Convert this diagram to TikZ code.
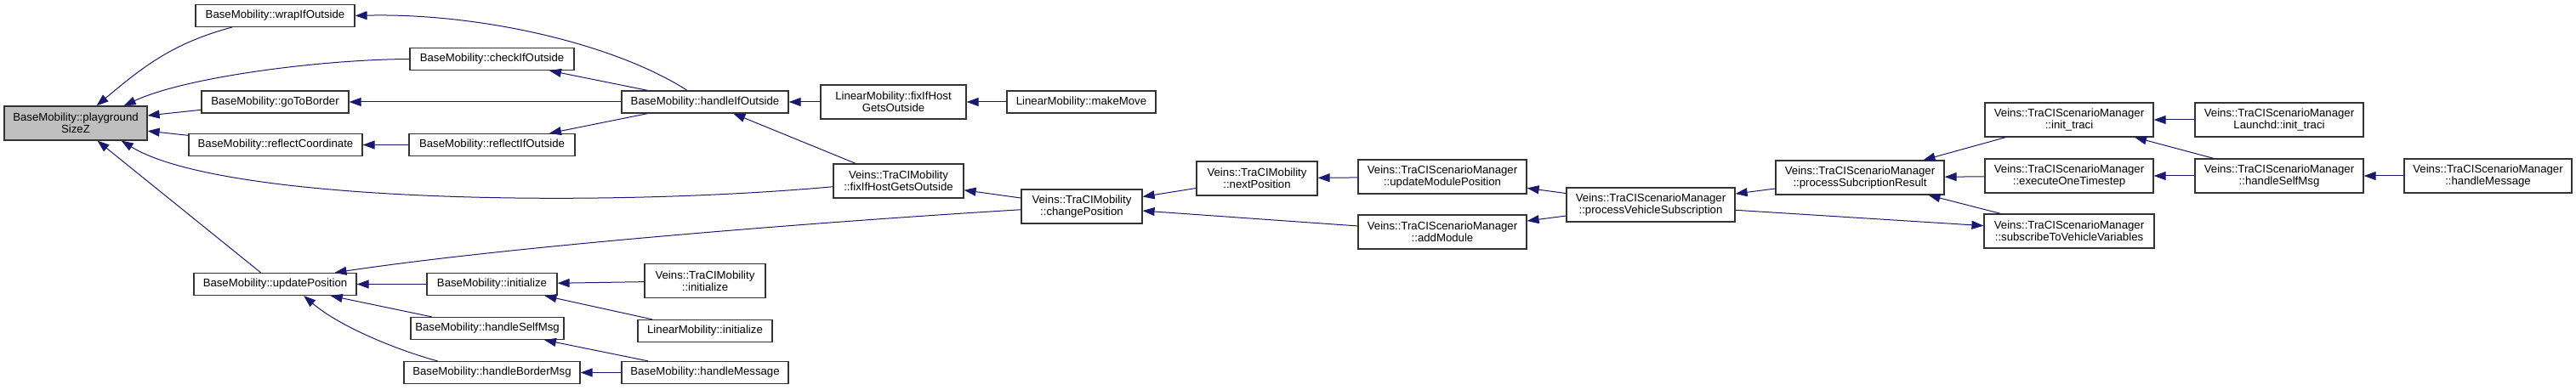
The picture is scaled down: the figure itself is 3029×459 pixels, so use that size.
\documentclass[tikz,border=0pt]{standalone}
\usepackage{fontspec}
\setmainfont{Liberation Sans}
\usetikzlibrary{arrows.meta}
\definecolor{edgeblue}{RGB}{25,25,112}
\tikzset{
  fn/.style={draw=black!80, fill=white, line width=0.6pt, inner sep=0pt,
    minimum height=13pt, align=center, font=\fontsize{6.6}{6.9}\selectfont},
  fn2/.style={fn, minimum height=20pt},
  call/.style={->, draw=edgeblue, line width=0.5pt}
}
\begin{document}
\begin{tikzpicture}[x=0.5pt, y=-0.5pt, >={Triangle[length=7pt,width=5pt]}]
  \useasboundingbox (0,0) rectangle (3029,459);
  \node[fn2, fill=black!25, minimum width=84pt] (psz) at (89,145) {BaseMobility::playground\\SizeZ};
  \node[fn, minimum width=93.5pt] (wrap) at (323.5,18.5) {BaseMobility::wrapIfOutside};
  \node[fn, minimum width=86.5pt] (goto) at (323.5,120) {BaseMobility::goToBorder};
  \node[fn, minimum width=102pt] (reflcoord) at (324,170.5) {BaseMobility::reflectCoordinate};
  \node[fn, minimum width=95.5pt] (updpos) at (323.5,334.5) {BaseMobility::updatePosition};
  \node[fn, minimum width=96.5pt] (check) at (578.5,69.5) {BaseMobility::checkIfOutside};
  \node[fn, minimum width=97.5pt] (reflif) at (578.5,170.5) {BaseMobility::reflectIfOutside};
  \node[fn, minimum width=76.5pt] (init) at (578.5,334.5) {BaseMobility::initialize};
  \node[fn, minimum width=90pt] (selfmsg) at (573,386.5) {BaseMobility::handleSelfMsg};
  \node[fn, minimum width=103.5pt] (bordermsg) at (578.5,438.5) {BaseMobility::handleBorderMsg};
  \node[fn, minimum width=98pt] (handleif) at (829,120) {BaseMobility::handleIfOutside};
  \node[fn2, minimum width=71pt] (vinit) at (829,330.5) {Veins::TraCIMobility\\::initialize};
  \node[fn, minimum width=79pt] (lininit) at (829,389.5) {LinearMobility::initialize};
  \node[fn, minimum width=98pt] (handlemsg) at (829,438.5) {BaseMobility::handleMessage};
  \node[fn2, minimum width=85.5pt] (linfix) at (1050.5,120) {LinearMobility::fixIfHost\\GetsOutside};
  \node[fn2, minimum width=76.5pt] (vfix) at (1056.5,213) {Veins::TraCIMobility\\::fixIfHostGetsOutside};
  \node[fn, minimum width=87.5pt] (makemove) at (1271.5,120) {LinearMobility::makeMove};
  \node[fn2, minimum width=71pt] (changepos) at (1272,243) {Veins::TraCIMobility\\::changePosition};
  \node[fn2, minimum width=71pt] (nextpos) at (1478,210) {Veins::TraCIMobility\\::nextPosition};
  \node[fn2, minimum width=99pt] (updmod) at (1696,208) {Veins::TraCIScenarioManager\\::updateModulePosition};
  \node[fn2, minimum width=99pt] (addmod) at (1696,273) {Veins::TraCIScenarioManager\\::addModule};
  \node[fn2, minimum width=99pt] (procveh) at (1941,241) {Veins::TraCIScenarioManager\\::processVehicleSubscription};
  \node[fn2, minimum width=99pt] (procsub) at (2187,209) {Veins::TraCIScenarioManager\\::processSubcriptionResult};
  \node[fn2, minimum width=99pt] (inittraci) at (2433,141) {Veins::TraCIScenarioManager\\::init\_traci};
  \node[fn2, minimum width=99pt] (execone) at (2433,207) {Veins::TraCIScenarioManager\\::executeOneTimestep};
  \node[fn2, minimum width=100pt] (subscribe) at (2433,272) {Veins::TraCIScenarioManager\\::subscribeToVehicleVariables};
  \node[fn2, minimum width=99pt] (launchd) at (2680,141) {Veins::TraCIScenarioManager\\Launchd::init\_traci};
  \node[fn2, minimum width=99pt] (vselfmsg) at (2680,207) {Veins::TraCIScenarioManager\\::handleSelfMsg};
  \node[fn2, minimum width=98.5pt] (vhandlemsg) at (2925.5,207) {Veins::TraCIScenarioManager\\::handleMessage};

  \draw[call] (wrap) to[out=195,in=40] (psz);
  \draw[call] (check.west) .. controls (380,70) and (220,90) .. (psz.20);
  \draw[call] (goto) -- (psz);
  \draw[call] (reflcoord) -- (psz);
  \draw[call] (vfix.185) .. controls (700,245) and (260,238) .. (psz.-21);
  \draw[call] (updpos) -- (psz);
  \draw[call] (handleif.147) .. controls (720,50) and (560,15) .. (wrap.east);
  \draw[call] (handleif) -- (check);
  \draw[call] (handleif) -- (goto);
  \draw[call] (handleif) -- (reflif);
  \draw[call] (reflif) -- (reflcoord);
  \draw[call] (linfix) -- (handleif);
  \draw[call] (vfix) -- (handleif);
  \draw[call] (makemove) -- (linfix);
  \draw[call] (changepos) -- (vfix);
  \draw[call] (changepos.183) .. controls (950,262) and (600,290) .. (updpos.11);
  \draw[call] (nextpos) -- (changepos);
  \draw[call] (addmod) -- (changepos);
  \draw[call] (updmod) -- (nextpos);
  \draw[call] (procveh) -- (updmod);
  \draw[call] (procveh) -- (addmod);
  \draw[call] (procveh) -- (subscribe);
  \draw[call] (procsub) -- (procveh);
  \draw[call] (inittraci) -- (procsub);
  \draw[call] (execone) -- (procsub);
  \draw[call] (subscribe) -- (procsub);
  \draw[call] (launchd) -- (inittraci);
  \draw[call] (vselfmsg) -- (inittraci);
  \draw[call] (vselfmsg) -- (execone);
  \draw[call] (vhandlemsg) -- (vselfmsg);
  \draw[call] (init) -- (updpos);
  \draw[call] (selfmsg) -- (updpos);
  \draw[call] (bordermsg.168) .. controls (470,413) and (400,385) .. (updpos.-22);
  \draw[call] (vinit) -- (init);
  \draw[call] (lininit) -- (init);
  \draw[call] (handlemsg) -- (selfmsg);
  \draw[call] (handlemsg) -- (bordermsg);
\end{tikzpicture}
\end{document}
